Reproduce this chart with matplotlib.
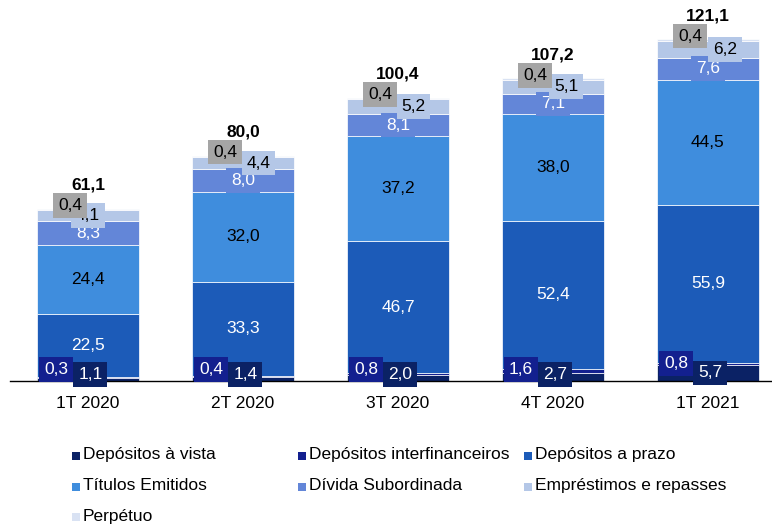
import matplotlib
matplotlib.use("Agg")
import matplotlib.pyplot as plt
from matplotlib.patches import Rectangle
import numpy as np

plt.rcParams['font.family'] = ['Liberation Sans', 'DejaVu Sans']

# ---- data ----
periods = ["1T 2020", "2T 2020", "3T 2020", "4T 2020", "1T 2021"]
series_names = ["Depósitos à vista", "Depósitos interfinanceiros", "Depósitos a prazo",
                "Títulos Emitidos", "Dívida Subordinada", "Empréstimos e repasses", "Perpétuo"]
depositos_vista = [1.1, 1.4, 2.0, 2.7, 5.7]
depositos_interfin = [0.3, 0.4, 0.8, 1.6, 0.8]
depositos_prazo = [22.5, 33.3, 46.7, 52.4, 55.9]
titulos_emitidos = [24.4, 32.0, 37.2, 38.0, 44.5]
divida_subordinada = [8.3, 8.0, 8.1, 7.1, 7.6]
emprestimos = [4.1, 4.4, 5.2, 5.1, 6.2]
perpetuo = [0.4, 0.4, 0.4, 0.4, 0.4]
totals = [61.1, 80.0, 100.4, 107.2, 121.1]

series = [depositos_vista, depositos_interfin, depositos_prazo, titulos_emitidos,
          divida_subordinada, emprestimos, perpetuo]

# ---- style ----
colors = ["#0b2265", "#13208f", "#1c5bb8", "#3f8ddd", "#6386d8", "#b4c7e7", "#d9e2f3"]
label_colors = ["white", "white", "white", "black", "white", "black", "black"]
grey_box = "#a5a5a5"
emp_dx = [0.0, 0.10, 0.10, 0.085, 0.11]   # small horizontal nudges of the Empréstimos labels
FS = 12.5

W, H = 772, 527
fig = plt.figure(figsize=(W / 100, H / 100), dpi=100)
ax = fig.add_axes([10 / W, (H - 381) / H, (W - 10) / W, 381 / H])

x = np.arange(len(periods))
bar_w = 0.66
data = np.array(series)
bottoms = np.zeros(len(periods))
for k, vals in enumerate(data):
    ax.bar(x, vals, bar_w, bottom=bottoms, color=colors[k], edgecolor="white",
           linewidth=0.5, zorder=2)
    bottoms = bottoms + vals

cum = np.vstack([np.zeros(len(periods)), np.cumsum(data, axis=0)])

def fmt(v):
    return f"{v:.1f}".replace(".", ",")

def boxed(xp, yp, txt, fc, tc, z):
    ax.text(xp, yp, txt, ha="center", va="center", fontsize=FS, color=tc, zorder=z,
            bbox=dict(boxstyle="square,pad=0.28", fc=fc, ec="none"), clip_on=False)

for i in range(len(periods)):
    # Depósitos à vista
    v = data[0][i]
    boxed(x[i] + 0.015, max(v / 2, 2.4), fmt(v), colors[0], "white", 6)
    # Depósitos interfinanceiros
    v = data[1][i]
    boxed(x[i] - 0.206, max(cum[1][i] + v / 2, 4.0), fmt(v), colors[1], "white", 5)
    # Depósitos a prazo, Títulos (centered, no visible box)
    for k in (2, 3):
        v = data[k][i]
        ax.text(x[i], cum[k][i] + v / 2, fmt(v), ha="center", va="center",
                fontsize=FS, color=label_colors[k], zorder=4)
    # Dívida Subordinada
    v = data[4][i]
    boxed(x[i], cum[4][i] + v / 2, fmt(v), colors[4], "white", 5)
    # Empréstimos e repasses
    v = data[5][i]
    boxed(x[i] + emp_dx[i], cum[5][i] + v / 2, fmt(v), colors[5], "black", 6)
    # Perpétuo
    v = data[6][i]
    boxed(x[i] - 0.115, totals[i] + 1.2, fmt(v), grey_box, "black", 7)
    # Totals
    ax.text(x[i], totals[i] + 8.3, fmt(totals[i]), ha="center", va="center",
            fontsize=FS, fontweight="bold", color="black", zorder=8)

ax.set_xlim(-0.503, 4.413)
ax.set_ylim(0, 135.1)
ax.set_xticks(x)
ax.set_xticklabels(periods, fontsize=FS)
ax.tick_params(axis="x", length=0, pad=10.5)
ax.set_yticks([])
for s in ("top", "right", "left"):
    ax.spines[s].set_visible(False)
ax.spines["bottom"].set_color("black")
ax.spines["bottom"].set_linewidth(1.0)
ax.spines["bottom"].set_zorder(3)
ax.patch.set_alpha(0)

# ---- legend (fixed-width columns) ----
col_x0, col_w = 72, 226
row_y0, row_h = 455, 30.5
sq = 8
for i, name in enumerate(series_names):
    c, r = i % 3, i // 3
    px = col_x0 + c * col_w
    py = row_y0 + r * row_h
    fig.patches.append(Rectangle((px / W, (H - py - sq / 2 - 1) / H), sq / W, sq / H,
                                 transform=fig.transFigure, fc=colors[i], ec="none"))
    fig.text((px + sq + 3) / W, (H - py) / H, name, ha="left", va="center",
             fontsize=FS, color="black")

fig.savefig("out.png", dpi=100)
